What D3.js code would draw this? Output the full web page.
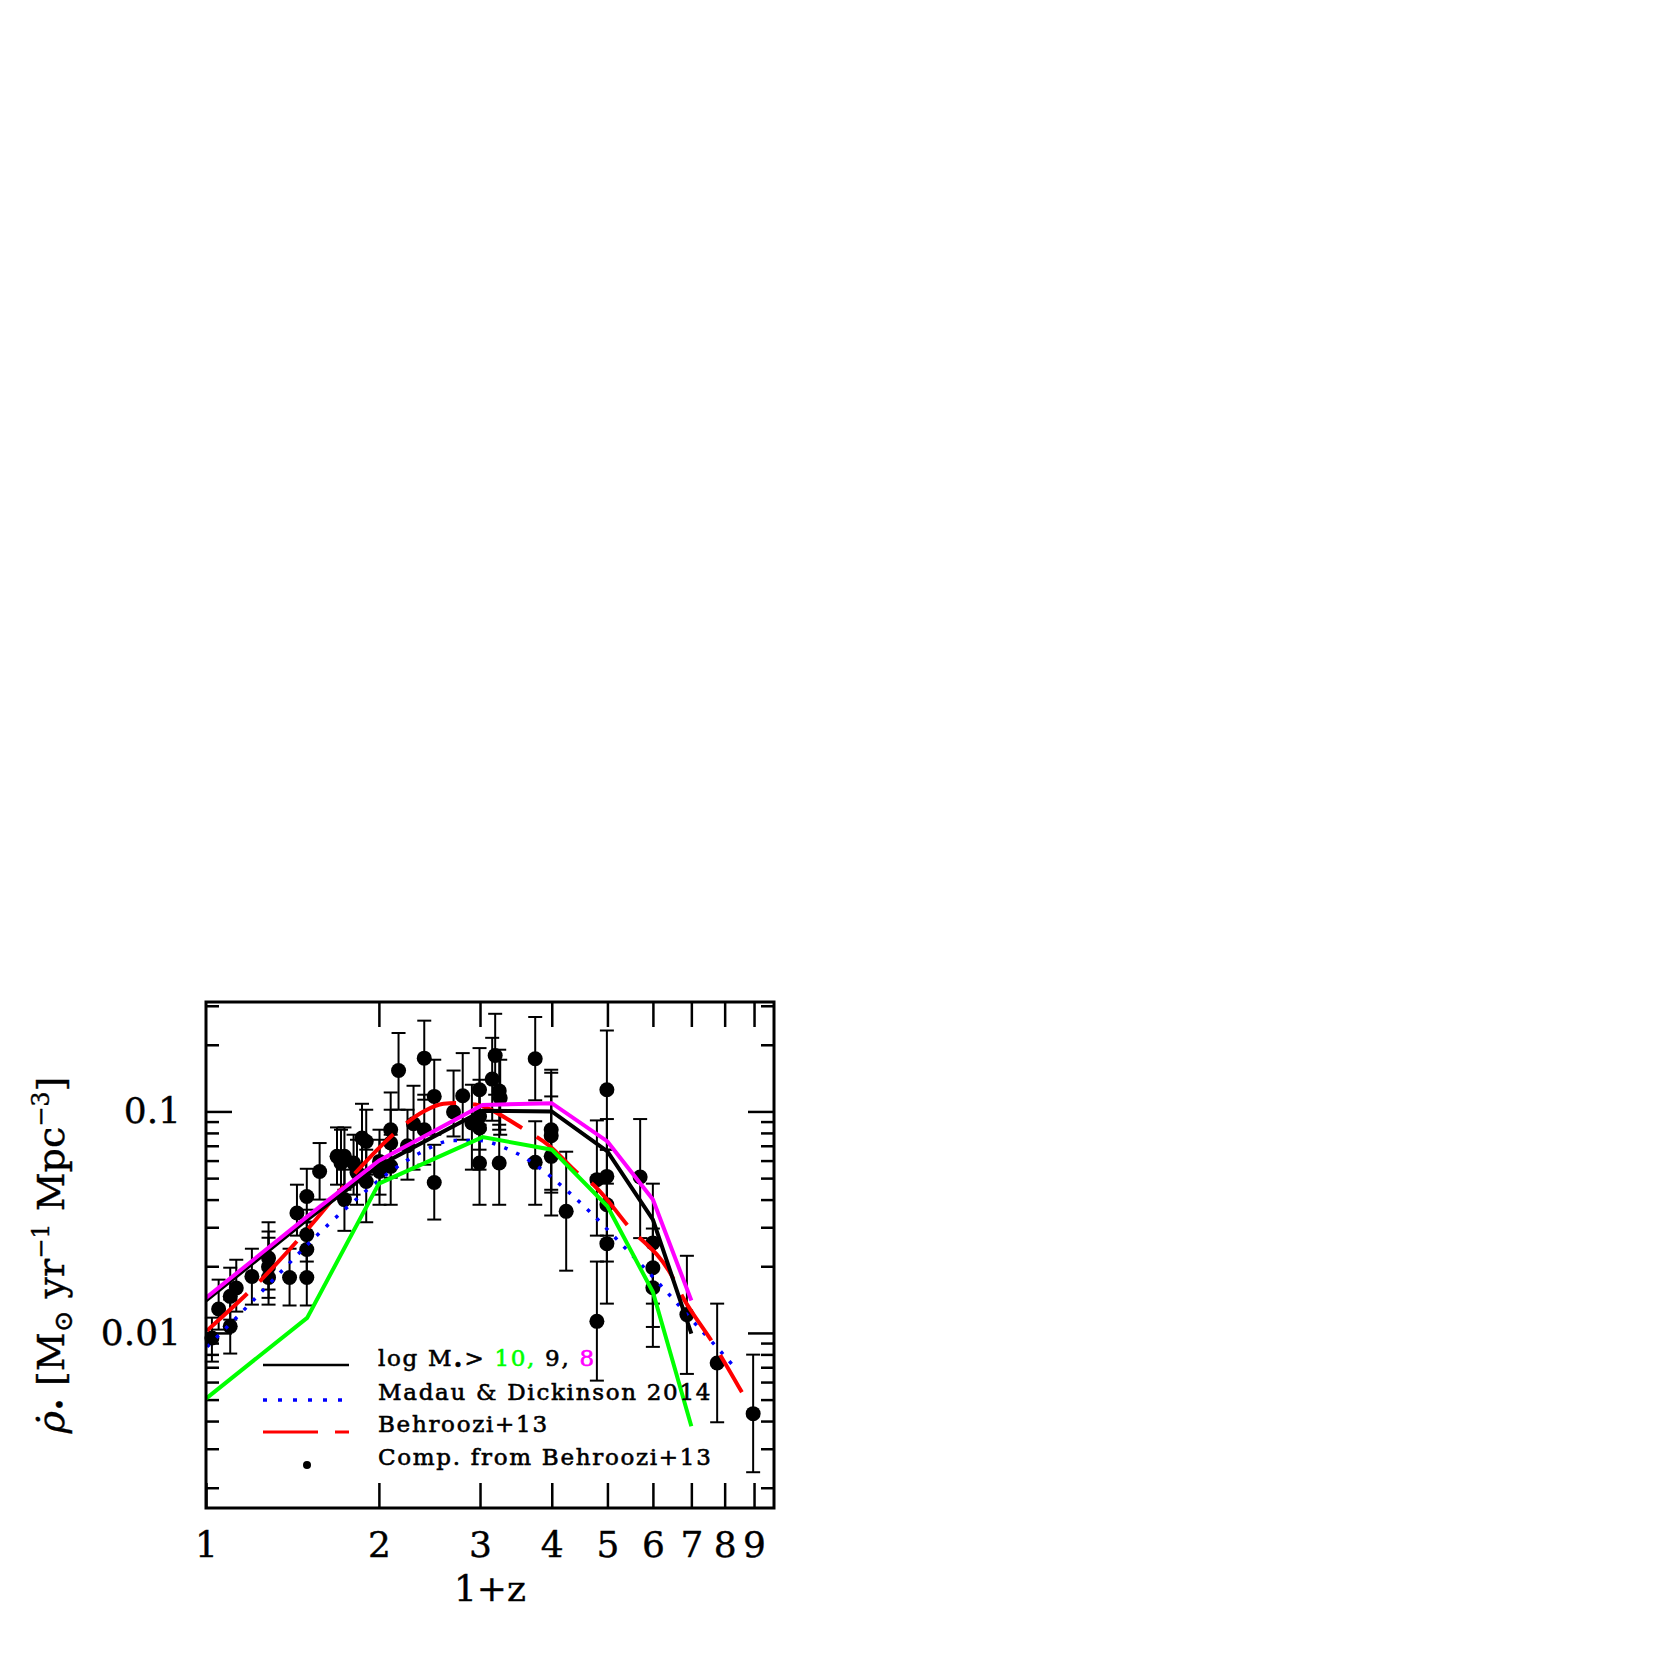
<!DOCTYPE html>
<html>
<head>
<meta charset="utf-8">
<script src="https://cdn.jsdelivr.net/npm/d3@7"></script>
<style>
  body { margin: 0; background: #fff; }
  text { font-family: "DejaVu Serif", serif; fill: #000; }
</style>
</head>
<body>
<script>
var svgWidth = 1661;
var svgHeight = 1661;

var margin = { top: 1002, right: 887, bottom: 153, left: 206 };
var width = svgWidth - margin.left - margin.right;
var height = svgHeight - margin.top - margin.bottom;

// simulation snapshots (1+z) and SFR density for the three mass cuts
var snapX = [1, 1.5, 2, 3.03, 4, 5, 6, 7];
var sfrM10 = [0.00505, 0.0117, 0.0472, 0.0766, 0.0672, 0.0373, 0.0153, 0.00379];
var sfrM9 = [0.0140, 0.0325, 0.0569, 0.1007, 0.100, 0.066, 0.0325, 0.00993];
var sfrM8 = [0.0144, 0.0335, 0.0599, 0.107, 0.109, 0.0732, 0.040, 0.0140];

// Madau & Dickinson 2014 curve
var madauX = [1.004, 1.158, 1.332, 1.533, 1.776, 2.071, 2.348, 2.698, 2.982, 3.288,
              3.596, 3.907, 4.221, 4.704, 5.226, 5.81, 6.43, 7.107, 7.856, 8.40];
var madauY = [0.00865, 0.01252, 0.0182, 0.02636, 0.03765, 0.05235, 0.0646, 0.07398, 0.07398, 0.0691,
              0.06163, 0.05289, 0.04465, 0.03443, 0.026, 0.01956, 0.01473, 0.01101, 0.0083, 0.00681];

// Behroozi+13 fit
var behrX = [1.004, 1.24, 1.509, 1.819, 2.116, 2.392, 2.592, 2.735, 2.943, 3.563,
             3.974, 4.424, 4.76, 5.44, 6.43, 6.776, 7.63, 8.57];
var behrY = [0.01024, 0.0171, 0.02977, 0.05272, 0.0785, 0.100, 0.1083, 0.1091, 0.1074, 0.0836,
             0.0695, 0.05305, 0.04587, 0.03027, 0.01865, 0.01439, 0.00901, 0.0054];

// compilation from Behroozi+13: 1+z, value, lower and upper error
var obsX = [1.024, 1.052, 1.102, 1.102, 1.129, 1.202, 1.285, 1.285, 1.285, 1.398,
            1.44, 1.498, 1.498, 1.498, 1.498, 1.577, 1.691, 1.718, 1.742, 1.742,
            1.807, 1.832, 1.869, 1.901, 1.901, 2.005, 2.005, 2.097, 2.097, 2.097,
            2.164, 2.243, 2.298, 2.399, 2.399, 2.497, 2.497, 2.698, 2.799, 2.904,
            2.994, 2.994, 2.994, 2.994, 3.15, 3.188, 3.24, 3.253, 3.24, 3.743,
            3.743, 3.991, 3.991, 3.991, 4.238, 4.793, 4.793, 4.989, 4.989, 4.989,
            4.989, 5.701, 5.999, 5.999, 5.999, 6.876, 7.763, 8.968];
var obsY = [0.00949, 0.01283, 0.01071, 0.01463, 0.01596, 0.018, 0.0218, 0.0199, 0.0178, 0.0178,
            0.0348, 0.0413, 0.0278, 0.0238, 0.0178, 0.0536, 0.0627, 0.0585, 0.040, 0.0627,
            0.0585, 0.053, 0.0759, 0.0732, 0.0483, 0.0595, 0.0536, 0.0827, 0.072, 0.0565,
            0.153, 0.070, 0.088, 0.174, 0.0827, 0.1169, 0.0478, 0.0994, 0.1177, 0.0887,
            0.1253, 0.0949, 0.0842, 0.0585, 0.140, 0.179, 0.1238, 0.115, 0.0585, 0.173,
            0.0589, 0.0827, 0.0777, 0.0627, 0.0354, 0.0492, 0.01128, 0.1253, 0.0509, 0.0379,
            0.0253, 0.0506, 0.0255, 0.0197, 0.016, 0.0121, 0.00732, 0.00432];
var obsLo = [0.00742, 0.01035, 0.00807, 0.01148, 0.01248, 0.01342, 0.0157, 0.0144, 0.01342, 0.0133,
             0.0275, 0.0315, 0.021, 0.0178, 0.0133, 0.040, 0.0467, 0.0421, 0.0289, 0.0443,
             0.0421, 0.0379, 0.0546, 0.0518, 0.0316, 0.0421, 0.0379, 0.0575, 0.0502, 0.0379,
             0.1018, 0.0492, 0.0546, 0.113, 0.0575, 0.0785, 0.0325, 0.0771, 0.0745, 0.0546,
             0.0827, 0.0672, 0.0546, 0.0379, 0.0908, 0.119, 0.0827, 0.0785, 0.0379, 0.1123,
             0.0379, 0.0443, 0.043, 0.0339, 0.0191, 0.0275, 0.00609, 0.0672, 0.0275, 0.021,
             0.01356, 0.0268, 0.01356, 0.01064, 0.00865, 0.00653, 0.00395, 0.00235];
var obsHi = [0.01172, 0.0174, 0.01413, 0.0197, 0.0214, 0.024, 0.0316, 0.0287, 0.0269, 0.024,
             0.0467, 0.0551, 0.036, 0.0318, 0.0238, 0.072, 0.0847, 0.0827, 0.0546, 0.0847,
             0.0785, 0.0745, 0.1083, 0.1018, 0.0672, 0.0827, 0.0745, 0.1218, 0.1018, 0.0785,
             0.226, 0.1018, 0.1306, 0.257, 0.119, 0.1712, 0.0707, 0.153, 0.1834, 0.132,
             0.1932, 0.139, 0.1253, 0.0871, 0.215, 0.276, 0.19, 0.1712, 0.0871, 0.267,
             0.0903, 0.1543, 0.1495, 0.1169, 0.0658, 0.0911, 0.021, 0.232, 0.0924, 0.0672,
             0.0472, 0.0924, 0.0472, 0.0296, 0.025, 0.0223, 0.01356, 0.00798];

var xTicks = [1, 2, 3, 4, 5, 6, 7, 8, 9];
var yMajor = [0.01, 0.1];
var yMinor = [0.002, 0.003, 0.004, 0.005, 0.006, 0.007, 0.008, 0.009,
              0.02, 0.03, 0.04, 0.05, 0.06, 0.07, 0.08, 0.09, 0.2, 0.3];

var svg = d3.select("body").append("svg")
  .attr("width", svgWidth)
  .attr("height", svgHeight);

var chart = svg.append("g")
  .attr("transform", "translate(" + margin.left + "," + margin.top + ")");

var xScale = d3.scaleLog().domain([1, 9.75]).range([0, width]);
var yScale = d3.scaleLog().domain([0.00162, 0.312]).range([height, 0]);

// axes: ticks point inward on all four sides
function styleAxis(g) {
  g.select(".domain").remove();
  g.selectAll(".tick line").attr("stroke", "#000").attr("stroke-width", 2.5);
  g.selectAll("text").style("font-size", "36px").attr("fill", "#000")
    .attr("stroke", "#000").attr("stroke-width", 0.4);
}

chart.append("g")
  .attr("transform", "translate(0," + height + ")")
  .call(d3.axisBottom(xScale).tickValues(xTicks).tickSize(-25).tickPadding(23)
    .tickFormat(d3.format("d")))
  .call(styleAxis);

chart.append("g")
  .call(d3.axisTop(xScale).tickValues(xTicks.slice(1)).tickSize(-25).tickFormat(""))
  .call(styleAxis);

chart.append("g")
  .call(d3.axisLeft(yScale).tickValues(yMajor).tickSize(-26).tickPadding(25)
    .tickFormat(function(d) { return d === 0.1 ? "0.1" : "0.01"; }))
  .call(styleAxis);

chart.append("g")
  .call(d3.axisLeft(yScale).tickValues(yMinor).tickSize(-13).tickFormat(""))
  .call(styleAxis);

chart.append("g")
  .attr("transform", "translate(" + width + ",0)")
  .call(d3.axisRight(yScale).tickValues(yMajor).tickSize(-26).tickFormat(""))
  .call(styleAxis);

chart.append("g")
  .attr("transform", "translate(" + width + ",0)")
  .call(d3.axisRight(yScale).tickValues(yMinor).tickSize(-13).tickFormat(""))
  .call(styleAxis);

// error bars and points
var obs = obsX.map(function(v, i) {
  return { x: v, y: obsY[i], lo: obsLo[i], hi: obsHi[i] };
});

var bars = chart.append("g").attr("stroke", "#000").attr("stroke-width", 2);
obs.forEach(function(d) {
  var cx = xScale(d.x);
  bars.append("line").attr("x1", cx).attr("x2", cx)
    .attr("y1", yScale(d.lo)).attr("y2", yScale(d.hi));
  [d.lo, d.hi].forEach(function(e) {
    bars.append("line").attr("x1", cx - 7).attr("x2", cx + 7)
      .attr("y1", yScale(e)).attr("y2", yScale(e));
  });
});

chart.append("g").selectAll("circle")
  .data(obs)
  .enter()
  .append("circle")
  .attr("cx", function(d) { return xScale(d.x); })
  .attr("cy", function(d) { return yScale(d.y); })
  .attr("r", 7.5)
  .attr("fill", "#000");

// model curves
var line = d3.line()
  .x(function(d) { return xScale(d[0]); })
  .y(function(d) { return yScale(d[1]); });
var smooth = d3.line()
  .x(function(d) { return xScale(d[0]); })
  .y(function(d) { return yScale(d[1]); })
  .curve(d3.curveMonotoneX);

function zip(a, b) { return a.map(function(v, i) { return [v, b[i]]; }); }

chart.append("path").attr("d", smooth(zip(madauX, madauY)))
  .attr("fill", "none").attr("stroke", "#0000ff").attr("stroke-width", 3.5)
  .attr("stroke-dasharray", "3.5,9.5");

chart.append("path").attr("d", smooth(zip(behrX, behrY)))
  .attr("fill", "none").attr("stroke", "#ff0000").attr("stroke-width", 4)
  .attr("stroke-dasharray", "55,17");

[[sfrM10, "#00ff00"], [sfrM9, "#000000"], [sfrM8, "#ff00ff"]].forEach(function(s) {
  chart.append("path").attr("d", line(zip(snapX, s[0])))
    .attr("fill", "none").attr("stroke", s[1]).attr("stroke-width", 4)
    .attr("stroke-linejoin", "miter");
});

// frame
chart.append("rect")
  .attr("width", width).attr("height", height)
  .attr("fill", "none").attr("stroke", "#000").attr("stroke-width", 3);

// legend
var legend = svg.append("g");
var lx0 = 263, lx1 = 349, tx = 378;
var rows = [1366, 1400, 1432, 1465];

legend.append("line").attr("x1", lx0).attr("x2", lx1).attr("y1", rows[0] - 1).attr("y2", rows[0] - 1)
  .attr("stroke", "#000").attr("stroke-width", 2.5);
legend.append("line").attr("x1", lx0).attr("x2", lx1).attr("y1", rows[1]).attr("y2", rows[1])
  .attr("stroke", "#0000ff").attr("stroke-width", 3.5).attr("stroke-dasharray", "4,11");
legend.append("line").attr("x1", lx0).attr("x2", lx1).attr("y1", rows[2]).attr("y2", rows[2])
  .attr("stroke", "#ff0000").attr("stroke-width", 3).attr("stroke-dasharray", "55,17");
legend.append("circle").attr("cx", 307).attr("cy", rows[3]).attr("r", 4).attr("fill", "#000");

function legendText(yy) {
  return legend.append("text").attr("x", tx).attr("y", yy)
    .style("font-size", "23px").style("letter-spacing", "1.7px")
    .attr("stroke", "#000").attr("stroke-width", 0.6);
}
var t1 = legendText(rows[0]);
t1.append("tspan").text("log M");
t1.append("tspan").style("font-size", "16px").attr("dy", 5).text("\u2022");
t1.append("tspan").attr("dy", -5).text("> ");
t1.append("tspan").style("fill", "#00ff00").attr("stroke", "#00ff00").text("10,");
t1.append("tspan").text(" 9,");
t1.append("tspan").style("fill", "#ff00ff").attr("stroke", "#ff00ff").text(" 8");
legendText(rows[1]).text("Madau & Dickinson 2014");
legendText(rows[2]).text("Behroozi+13");
legendText(rows[3]).text("Comp. from Behroozi+13");

// axis titles
svg.append("text")
  .attr("x", margin.left + width / 2).attr("y", 1601)
  .attr("text-anchor", "middle")
  .attr("stroke", "#000").attr("stroke-width", 0.4)
  .style("font-size", "36px")
  .text("1+z");

var ylab = svg.append("text")
  .attr("transform", "translate(64," + (margin.top + height / 2) + ") rotate(-90)")
  .attr("text-anchor", "middle")
  .attr("stroke", "#000").attr("stroke-width", 0.4)
  .style("font-size", "38px");
ylab.append("tspan").style("font-style", "italic").text("\u03C1\u0307");
ylab.append("tspan").style("font-size", "22px").attr("dy", 4).text("\u2022");
ylab.append("tspan").attr("dy", -4).text("  [M");
ylab.append("tspan").style("font-size", "26px").attr("dy", 8).text("\u2299");
ylab.append("tspan").attr("dy", -8).text(" yr");
ylab.append("tspan").style("font-size", "24px").attr("dy", -15).text("\u22121");
ylab.append("tspan").attr("dy", 15).text(" Mpc");
ylab.append("tspan").style("font-size", "24px").attr("dy", -15).text("\u22123");
ylab.append("tspan").attr("dy", 15).text("]");
</script>
</body>
</html>
